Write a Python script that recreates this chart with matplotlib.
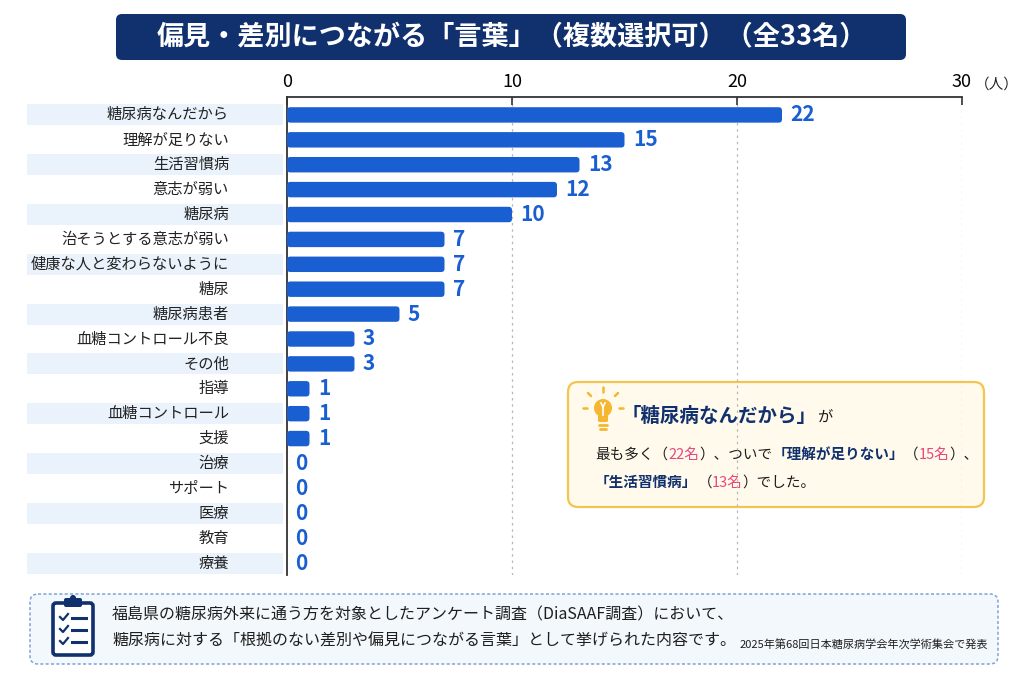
import matplotlib
matplotlib.use("Agg")
import matplotlib.pyplot as plt
from matplotlib.patches import FancyBboxPatch, Rectangle, Circle
from matplotlib.transforms import blended_transform_factory

plt.rcParams['font.family'] = ['Noto Sans CJK JP', 'DejaVu Sans']

categories = ["糖尿病なんだから", "理解が足りない", "生活習慣病", "意志が弱い", "糖尿病",
              "治そうとする意志が弱い", "健康な人と変わらないように", "糖尿", "糖尿病患者",
              "血糖コントロール不良", "その他", "指導", "血糖コントロール", "支援",
              "治療", "サポート", "医療", "教育", "療養"]
counts = [22, 15, 13, 12, 10, 7, 7, 7, 5, 3, 3, 1, 1, 1, 0, 0, 0, 0, 0]
xticks = [0, 10, 20, 30]

title = "偏見・差別につながる「言葉」（複数選択可）（全33名）"
note1 = "福島県の糖尿病外来に通う方を対象としたアンケート調査（DiaSAAF調査）において、"
note2 = "糖尿病に対する「根拠のない差別や偏見につながる言葉」として挙げられた内容です。"
source = "2025年第68回日本糖尿病学会年次学術集会で発表"

NAVY = "#10306e"
BLUE = "#1a5fd2"
PINK = "#e8477f"
DARK = "#1e1e1e"
W, H = 1024, 683

fig = plt.figure(figsize=(10.24, 6.83), dpi=100)
fig.patch.set_facecolor("white")

# overlay in pixel coordinates for the decorations
bg = fig.add_axes([0, 0, 1, 1])
bg.set_xlim(0, W)
bg.set_ylim(H, 0)
bg.axis("off")

# title banner
bg.add_patch(FancyBboxPatch((116, 14), 790, 46, boxstyle="round,pad=0,rounding_size=6",
                            fc=NAVY, ec="none"))
bg.text(512, 37, title, color="white", fontsize=19.5, fontweight="bold",
        ha="center", va="center")

# main chart
ax = fig.add_axes([287 / W, 1 - 575 / H, 675 / W, 478 / H])
ax.set_zorder(2)
ax.patch.set_alpha(0)
n = len(categories)
ypos = list(range(n))
bars = ax.barh(ypos, counts, height=0.62, color=BLUE, zorder=3)
ax.set_xlim(0, 30)
ax.set_ylim(n - 0.52, -0.72)

# rounded bar ends
for r in bars.patches:
    r.set_visible(False)
    if r.get_width() <= 0:
        continue
    ax.add_patch(FancyBboxPatch((r.get_x(), r.get_y()), r.get_width(), r.get_height(),
                                boxstyle="round,pad=0,rounding_size=0.15",
                                mutation_aspect=0.9, fc=BLUE, ec="none", zorder=3))

ax.xaxis.tick_top()
ax.set_xticks(xticks)
ax.set_xticklabels([str(t) for t in xticks], fontsize=13)
ax.tick_params(axis="x", direction="in", length=6, width=1.2, color="#333333", pad=4)
ax.set_yticks([])
for s in ["right", "bottom"]:
    ax.spines[s].set_visible(False)
for s in ["top", "left"]:
    ax.spines[s].set_color("#333333")
    ax.spines[s].set_linewidth(1.3)
for t in xticks[1:]:
    ax.axvline(t, color="#b8b8b8", lw=0.9, ls=(0, (2, 3)), zorder=1)

ax.annotate("（人）", xy=(30, 1), xycoords=("data", "axes fraction"),
            xytext=(9, 4), textcoords="offset points", fontsize=10.5,
            ha="left", va="bottom", color="#222222")

for i, v in enumerate(counts):
    ax.annotate(str(v), (v, i), xytext=(6, 0), textcoords="offset points",
                va="center", ha="left", fontsize=15, fontweight="bold", color=BLUE)

# label stripes and category labels
tr = blended_transform_factory(fig.transFigure, ax.transData)
for i, c in enumerate(categories):
    if i % 2 == 0:
        fig.patches.append(Rectangle((27 / W, i - 0.42), 256 / W, 0.84, transform=tr,
                                     fc="#eaf2fb", ec="none", zorder=0))
    fig.text(229 / W, i, c, transform=tr, ha="right", va="center",
             fontsize=11, color="#222222")

# callout box
bg.add_patch(FancyBboxPatch((568, 382), 416, 125, boxstyle="round,pad=0,rounding_size=10",
                            fc="#fffaeb", ec="#f2c54e", lw=1.6, zorder=1))
# light bulb
bulb = "#f5b631"
bg.add_patch(Circle((603, 408), 9, fc=bulb, ec="none", zorder=3))
bg.add_patch(FancyBboxPatch((598, 415), 10, 7, boxstyle="round,pad=0,rounding_size=1.5",
                            fc=bulb, ec="none", zorder=3))
bg.plot([599, 607], [425, 425], color=bulb, lw=2, solid_capstyle="round", zorder=3)
bg.plot([600, 606], [429, 429], color=bulb, lw=2, solid_capstyle="round", zorder=3)
bg.plot([601, 603, 605], [403, 407, 403], color="white", lw=1.2, zorder=4)
bg.plot([603, 603], [407, 415], color="white", lw=1.2, zorder=4)
for x0, y0, x1, y1 in [(603, 392, 603, 387), (591, 396, 588, 393), (615, 396, 618, 393),
                       (587, 408, 583, 408), (619, 408, 623, 408)]:
    bg.plot([x0, x1], [y0, y1], color=bulb, lw=1.8, solid_capstyle="round", zorder=3)


def rainbow(x, y, parts):
    prev = bg.text(x, y, parts[0][0], color=parts[0][1], fontsize=parts[0][2],
                   fontweight=parts[0][3], ha="left", va="bottom", zorder=5)
    for s, col, fs, fw in parts[1:]:
        prev = bg.annotate(s, xy=(1, 0), xycoords=prev, ha="left", va="bottom",
                           color=col, fontsize=fs, fontweight=fw, zorder=5)


rainbow(622, 426, [("「糖尿病なんだから」", NAVY, 14, "bold"), ("が", DARK, 11, "normal")])
rainbow(595, 462, [("最も多く（", DARK, 10.5, "normal"), ("22名", PINK, 10.5, "normal"),
                   ("）、ついで", DARK, 10.5, "normal"), ("「理解が足りない」", NAVY, 10.5, "bold"),
                   ("（", DARK, 10.5, "normal"), ("15名", PINK, 10.5, "normal"),
                   ("）、", DARK, 10.5, "normal")])
rainbow(595, 490, [("「生活習慣病」", NAVY, 10.5, "bold"), ("（", DARK, 10.5, "normal"),
                   ("13名", PINK, 10.5, "normal"), ("）でした。", DARK, 10.5, "normal")])

# bottom note box
bg.add_patch(FancyBboxPatch((30, 594), 968, 70, boxstyle="round,pad=0,rounding_size=8",
                            fc="#f3f8fd", ec="#7fa3d8", lw=1.1, ls=(0, (2, 1.5)), zorder=1))
# clipboard icon
bg.add_patch(FancyBboxPatch((53, 603), 40, 52, boxstyle="round,pad=0,rounding_size=3",
                            fc="white", ec=NAVY, lw=2.6, zorder=3))
bg.add_patch(FancyBboxPatch((64, 598), 18, 9, boxstyle="round,pad=0,rounding_size=2",
                            fc=NAVY, ec="none", zorder=4))
bg.add_patch(Circle((73, 598), 3, fc=NAVY, ec="none", zorder=4))
for yy in [618, 630, 642]:
    bg.plot([60, 63, 68], [yy - 1, yy + 2, yy - 4], color=NAVY, lw=1.6, zorder=4)
    bg.plot([72, 86], [yy, yy], color=NAVY, lw=2.2, zorder=4)

bg.text(112, 615, note1, fontsize=11.5, color=DARK, ha="left", va="center", zorder=5)
bg.text(112, 641, note2, fontsize=11.5, color=DARK, ha="left", va="center", zorder=5)
bg.text(988, 645, source, fontsize=8, color=DARK, ha="right", va="center", zorder=5)

fig.savefig("out.png", dpi=100, facecolor="white")
